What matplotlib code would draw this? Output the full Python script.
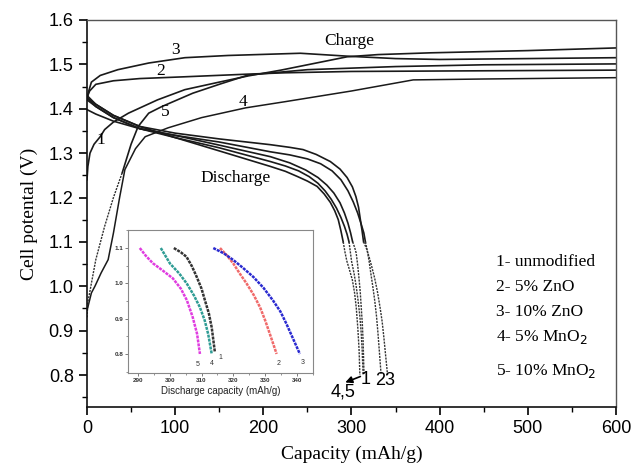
import matplotlib
matplotlib.use("Agg")
import matplotlib.pyplot as plt
from matplotlib.ticker import MultipleLocator

SERIF = "Liberation Serif"
SANS = "Liberation Sans"

# ---------------- charge curves (capacity, potential) ----------------
c1_x = [0, 1, 3.4, 8, 15, 20, 30, 47, 80, 111, 150, 183, 220, 260, 295, 330, 390, 500, 600]
c1_y = [1.24, 1.27, 1.30, 1.32, 1.337, 1.353, 1.37, 1.39, 1.42, 1.443, 1.46, 1.474, 1.487, 1.503, 1.517, 1.522, 1.526, 1.531, 1.537]

c2_x = [0, 1, 3, 10, 30, 60, 111, 183, 225, 300, 400, 600]
c2_y = [1.42, 1.43, 1.44, 1.455, 1.463, 1.468, 1.472, 1.478, 1.481, 1.484, 1.485, 1.487]

c3_x = [0, 2, 5, 15, 35, 70, 111, 160, 242, 299, 350, 400, 600]
c3_y = [1.42, 1.44, 1.46, 1.475, 1.488, 1.503, 1.515, 1.52, 1.525, 1.518, 1.513, 1.511, 1.515]

c4_x = [0, 5, 9, 16, 24, 30, 37, 43, 55, 66, 92, 130, 180, 225, 300, 370, 450, 600]
c4_y = [0.945, 0.985, 1.0, 1.03, 1.06, 1.12, 1.2, 1.263, 1.31, 1.337, 1.357, 1.38, 1.402, 1.416, 1.44, 1.465, 1.467, 1.47]

c5_x = [0, 1, 10, 20, 30, 40, 50, 58, 70, 85, 120, 150, 183, 250, 350, 450, 600]
c5_y = [0.93, 0.964, 1.06, 1.135, 1.2, 1.256, 1.32, 1.36, 1.39, 1.405, 1.435, 1.455, 1.476, 1.488, 1.495, 1.499, 1.501]

# ---------------- discharge curves ----------------
d1_x = [0, 10, 30, 60, 100, 150, 208, 230, 248, 262, 272, 280, 287, 292, 296, 299, 301.3,
        303.5, 305.3, 307, 308.5, 310, 311.1, 312.3, 313.2, 314.2]
d1_y = [1.398, 1.388, 1.372, 1.355, 1.34, 1.318, 1.292, 1.278, 1.262, 1.245, 1.228, 1.21, 1.188, 1.165, 1.142, 1.12, 1.10,
        1.088, 1.075, 1.048, 1.018, 0.985, 0.951, 0.915, 0.875, 0.80]

d2_x = [0, 10, 30, 60, 100, 150, 208, 230, 250, 265, 278, 288, 296, 302, 307, 311, 314, 315.8,
        318, 320, 322, 324.2, 326.4, 328.4, 330, 331.5, 333.6]
d2_y = [1.42, 1.405, 1.38, 1.355, 1.34, 1.325, 1.303, 1.296, 1.287, 1.276, 1.26, 1.24, 1.215, 1.19, 1.165, 1.14, 1.12, 1.10,
        1.079, 1.056, 1.028, 0.999, 0.967, 0.932, 0.895, 0.856, 0.80]

d3_x = [0, 10, 30, 60, 100, 150, 208, 230, 245, 260, 276, 287, 295, 301, 305, 308, 310, 312, 313.7,
        317, 320, 323, 326.3, 329.5, 332.5, 334.8, 336.7, 340.9]
d3_y = [1.425, 1.41, 1.385, 1.36, 1.345, 1.332, 1.319, 1.313, 1.308, 1.297, 1.281, 1.264, 1.245, 1.224, 1.202, 1.178, 1.151, 1.125, 1.10,
        1.085, 1.066, 1.044, 1.018, 0.987, 0.951, 0.92, 0.885, 0.80]

d4_x = [0, 10, 30, 60, 100, 150, 208, 225, 240, 252, 262, 270, 277, 283, 288, 292, 295, 297.2,
        300.1, 303, 305.4, 307.6, 309.5, 311, 312.1, 313.2]
d4_y = [1.425, 1.405, 1.38, 1.355, 1.335, 1.312, 1.281, 1.271, 1.26, 1.247, 1.232, 1.215, 1.196, 1.176, 1.155, 1.135, 1.117, 1.10,
        1.056, 1.028, 0.999, 0.966, 0.932, 0.895, 0.856, 0.80]

d5_x = [0, 10, 30, 60, 100, 150, 208, 225, 239, 250, 261, 269, 276, 281, 285, 288, 290.6,
        292.5, 294.7, 298, 301, 303.5, 305.4, 307.2, 308.6, 309.5]
d5_y = [1.43, 1.41, 1.385, 1.36, 1.335, 1.305, 1.27, 1.259, 1.247, 1.237, 1.225, 1.208, 1.189, 1.17, 1.15, 1.125, 1.10,
        1.078, 1.057, 1.035, 1.014, 0.985, 0.952, 0.905, 0.857, 0.80]

# ---------------- inset (discharge tail) ----------------
i1_x = [301.3, 303.5, 305.3, 307, 308.5, 310, 311.1, 312.3, 313.2, 314.2]
i1_y = [1.10, 1.088, 1.075, 1.048, 1.018, 0.985, 0.951, 0.915, 0.875, 0.805]
i2_x = [315.8, 318, 320, 322, 324.2, 326.4, 328.4, 330, 331.5, 333.6]
i2_y = [1.10, 1.079, 1.056, 1.028, 0.999, 0.967, 0.932, 0.895, 0.856, 0.80]
i3_x = [313.7, 317, 320, 323, 326.3, 329.5, 332.5, 334.8, 336.7, 340.9]
i3_y = [1.10, 1.085, 1.066, 1.044, 1.018, 0.987, 0.951, 0.92, 0.885, 0.80]
i4_x = [297.2, 300.1, 303, 305.4, 307.6, 309.5, 311, 312.1, 313.2]
i4_y = [1.10, 1.056, 1.028, 0.999, 0.966, 0.932, 0.895, 0.856, 0.80]
i5_x = [290.6, 292.5, 294.7, 298, 301, 303.5, 305.4, 307.2, 308.6, 309.5]
i5_y = [1.10, 1.078, 1.057, 1.035, 1.014, 0.985, 0.952, 0.905, 0.857, 0.80]

legend_lines = ["1- unmodified", "2- 5% ZnO", "3- 10% ZnO", "4- 5% MnO$_2$", "5- 10% MnO$_2$"]

fig = plt.figure(figsize=(6.42, 4.71), dpi=100)
ax = fig.add_axes([0.1355, 0.1359, 0.824, 0.8217])

lc = "#1a1a1a"
def split_plot(x, y, thr=1.1):
    # solid upper part, dotted steep lower part
    up_x = [a for a, b in zip(x, y) if b >= thr]
    up_y = [b for b in y if b >= thr]
    lo_x = [a for a, b in zip(x, y) if b <= thr]
    lo_y = [b for b in y if b <= thr]
    ax.plot(up_x, up_y, color=lc, lw=1.2)
    ax.plot(lo_x, lo_y, color="#333333", lw=1.0, ls=(0, (1.5, 0.8)))

for x, y in [(c1_x, c1_y), (c2_x, c2_y), (c3_x, c3_y)]:
    ax.plot(x, y, color=lc, lw=1.2)
ax.plot(c4_x, c4_y, color=lc, lw=1.1)
k = 6
ax.plot(c5_x[:k], c5_y[:k], color="#333333", lw=1.0, ls=(0, (1.5, 0.8)))
ax.plot(c5_x[k - 1:], c5_y[k - 1:], color=lc, lw=1.2)

for x, y in [(d1_x, d1_y), (d2_x, d2_y), (d3_x, d3_y), (d4_x, d4_y), (d5_x, d5_y)]:
    split_plot(x, y)

ax.set_xlim(0, 600)
ax.set_ylim(0.728, 1.6)
ax.xaxis.set_major_locator(MultipleLocator(100))
ax.xaxis.set_minor_locator(MultipleLocator(50))
ax.set_yticks([0.8, 0.9, 1.0, 1.1, 1.2, 1.3, 1.4, 1.5, 1.6])
ax.set_yticklabels(["0.8", "0.9", "1.0", "1.1", "1.2", "1.3", "1.4", "1.5", "1.6"])
ax.yaxis.set_minor_locator(MultipleLocator(0.05))
ax.tick_params(which="major", direction="out", length=6, width=1.2, labelsize=13)
ax.tick_params(which="minor", direction="out", length=3.5, width=1.0)
for lab in ax.get_xticklabels() + ax.get_yticklabels():
    lab.set_fontfamily(SANS)
for s in ["left", "bottom"]:
    ax.spines[s].set_linewidth(1.2)
    ax.spines[s].set_color("#111111")
for s in ["top", "right"]:
    ax.spines[s].set_linewidth(1.0)
    ax.spines[s].set_color("#555555")

ax.set_xlabel("Capacity (mAh/g)", fontfamily=SERIF, fontsize=14, labelpad=6)
ax.set_ylabel("Cell potental (V)", fontfamily=SERIF, fontsize=14, labelpad=8)

# annotations
ax.text(297, 1.553, "Charge", fontfamily=SERIF, fontsize=12.5, ha="center", va="center")
ax.text(169, 1.245, "Discharge", fontfamily=SERIF, fontsize=12.5, ha="center", va="center")
for t, x, y in [("3", 100, 1.533), ("2", 83, 1.484), ("5", 89, 1.392), ("4", 177, 1.416), ("1", 16, 1.33)]:
    ax.text(x, y, t, fontfamily=SERIF, fontsize=12.5, ha="center", va="center")

ax.text(291, 0.762, "4,5", fontfamily=SANS, fontsize=13, ha="center", va="center")
ax.text(316, 0.789, "1", fontfamily=SANS, fontsize=13, ha="center", va="center")
ax.text(338, 0.787, "23", fontfamily=SANS, fontsize=13, ha="center", va="center")
ax.annotate("", xy=(290, 0.781), xytext=(313, 0.799),
            arrowprops=dict(arrowstyle="-|>", color="black", lw=1.2, mutation_scale=10))

leg_y = [1.054, 0.998, 0.942, 0.885, 0.81]
for t, y in zip(legend_lines, leg_y):
    ax.text(463.6, y, t, fontfamily=SERIF, fontsize=12.5, ha="left", va="center")

# ---------------- inset ----------------
ia = fig.add_axes([0.1994, 0.208, 0.288, 0.3036])
dot = (0, (1.2, 0.4))
ia.plot(i5_x, i5_y, color="#e03ce0", lw=1.8, ls=dot)
ia.plot(i4_x, i4_y, color="#2e9c94", lw=1.8, ls=dot)
ia.plot(i1_x, i1_y, color="#333333", lw=1.8, ls=dot)
ia.plot(i2_x, i2_y, color="#f06a6a", lw=1.8, ls=dot)
ia.plot(i3_x, i3_y, color="#2a2ad0", lw=1.8, ls=dot)
ia.set_xlim(286.9, 345)
ia.set_ylim(0.746, 1.151)
ia.xaxis.set_major_locator(MultipleLocator(10))
ia.xaxis.set_minor_locator(MultipleLocator(5))
ia.set_yticks([0.8, 0.9, 1.0, 1.1])
ia.set_yticklabels(["0.8", "0.9", "1.0", "1.1"])
ia.yaxis.set_minor_locator(MultipleLocator(0.05))
ia.tick_params(which="major", direction="out", length=2, width=0.6, labelsize=4.5, pad=1.5, color="#666666")
ia.tick_params(which="minor", direction="out", length=1.2, width=0.5, color="#666666")
for lab in ia.get_xticklabels() + ia.get_yticklabels():
    lab.set_fontfamily(SANS)
    lab.set_fontweight("bold")
    lab.set_color("#333333")
for s in ia.spines.values():
    s.set_color("#888888")
    s.set_linewidth(0.8)
ia.set_xlabel("Discharge capacity (mAh/g)", fontfamily=SANS, fontsize=7, labelpad=2, color="#222222")
for t, x, y in [("5", 308.9, 0.769), ("4", 313.3, 0.772), ("1", 316.0, 0.789), ("2", 334.3, 0.774), ("3", 341.9, 0.777)]:
    ia.text(x, y, t, fontfamily=SANS, fontsize=5, ha="center", va="center", color="#333333")

fig.savefig("out.png", dpi=100)
